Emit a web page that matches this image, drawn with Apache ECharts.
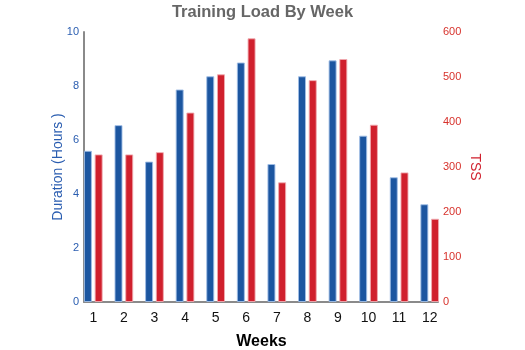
<!DOCTYPE html>
<html>
<head>
<meta charset="utf-8">
<script src="https://cdn.jsdelivr.net/npm/echarts@6/dist/echarts.min.js"></script>
<style>
  html, body { margin: 0; padding: 0; background: #fff; }
  #chart { width: 525px; height: 350px; }
</style>
</head>
<body>
<div id="chart"></div>
<script>
// Weekly training load: duration (hours, left axis) and TSS (right axis)
const weeks = ['1', '2', '3', '4', '5', '6', '7', '8', '9', '10', '11', '12'];
const durationHours = [5.6, 6.55, 5.2, 7.87, 8.36, 8.87, 5.11, 8.36, 8.95, 6.16, 4.62, 3.62];
const tss = [328, 328, 333, 421, 506, 586, 266, 493, 540, 394, 288, 185];
const durationTicks = { min: 0, max: 10, interval: 2 };
const tssTicks = { min: 0, max: 600, interval: 100 };

const BLUE = '#1c56a0';
const RED = '#d0202d';
const AXIS_GREY = '#8a8a8a';
const FONT = 'Liberation Sans, Arial, sans-serif';

const chart = echarts.init(document.getElementById('chart'), null, { renderer: 'canvas' });

chart.setOption({
  animation: false,
  backgroundColor: '#ffffff',
  title: {
    text: 'Training Load By Week',
    left: 'center',
    top: -1,
    textStyle: { fontFamily: FONT, fontSize: 16.5, fontWeight: 'bold', color: '#666666' }
  },
  grid: [
    { left: 78, right: 80, top: 32, bottom: 48, outerBoundsMode: 'none' },
    // baseline strip between the two value axes
    { left: 84, right: 87, top: 32, bottom: 48, outerBoundsMode: 'none' }
  ],
  xAxis: [
    {
      type: 'category',
      gridIndex: 0,
      data: weeks,
      boundaryGap: true,
      axisLine: { show: false },
      axisTick: { show: false },
      axisLabel: { color: '#111', fontFamily: FONT, fontSize: 14, margin: 9 },
      name: 'Weeks',
      nameLocation: 'middle',
      nameGap: 32,
      nameMoveOverlap: false,
      nameTextStyle: { color: '#000', fontFamily: FONT, fontSize: 16, fontWeight: 'bold' }
    },
    {
      type: 'value',
      gridIndex: 1,
      min: 0,
      max: 1,
      axisLine: { show: true, lineStyle: { color: AXIS_GREY, width: 2 } },
      axisTick: { show: false },
      axisLabel: { show: false },
      splitLine: { show: false }
    }
  ],
  yAxis: [
    {
      type: 'value',
      gridIndex: 0,
      position: 'left',
      offset: -6,
      min: durationTicks.min,
      max: durationTicks.max,
      interval: durationTicks.interval,
      axisLine: { show: true, lineStyle: { color: AXIS_GREY, width: 2 } },
      axisTick: { show: false },
      splitLine: { show: false },
      axisLabel: { color: '#2a5db0', fontFamily: FONT, fontSize: 11, margin: 5 },
      name: 'Duration (Hours )',
      nameLocation: 'middle',
      nameGap: 19,
      nameMoveOverlap: false,
      nameTextStyle: { color: '#2a5db0', fontFamily: FONT, fontSize: 14 }
    },
    {
      type: 'value',
      gridIndex: 0,
      position: 'right',
      offset: -4,
      min: tssTicks.min,
      max: tssTicks.max,
      interval: tssTicks.interval,
      axisLine: { show: false },
      axisTick: { show: false },
      splitLine: { show: false },
      axisLabel: { color: '#d7322c', fontFamily: FONT, fontSize: 11, margin: 2 },
      name: 'TSS',
      nameLocation: 'middle',
      nameGap: 27,
      nameRotate: -90,
      nameMoveOverlap: false,
      nameTextStyle: { color: '#d0202d', fontFamily: FONT, fontSize: 14 }
    },
    {
      type: 'value',
      gridIndex: 1,
      min: 0,
      max: 1,
      show: false
    }
  ],
  series: [
    {
      name: 'Duration',
      type: 'bar',
      xAxisIndex: 0,
      yAxisIndex: 0,
      data: durationHours,
      barWidth: 8,
      barGap: '34%',
      itemStyle: { color: BLUE, borderColor: 'rgba(160,190,230,0.9)', borderWidth: 1 }
    },
    {
      name: 'TSS',
      type: 'bar',
      xAxisIndex: 0,
      yAxisIndex: 1,
      data: tss,
      barWidth: 8,
      barGap: '34%',
      itemStyle: { color: RED, borderColor: 'rgba(240,170,175,0.9)', borderWidth: 1 }
    }
  ]
});
</script>
</body>
</html>
